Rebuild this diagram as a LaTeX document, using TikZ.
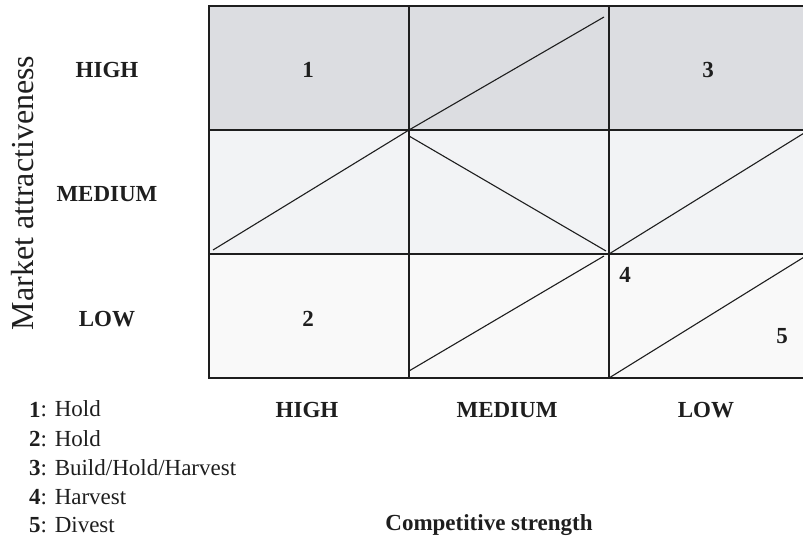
\documentclass[tikz,border=0pt]{standalone}
\usepackage{fontspec}
\setmainfont{Liberation Serif}
\usetikzlibrary{positioning}
\definecolor{rowHigh}{HTML}{DCDDE1}
\definecolor{rowMed}{HTML}{F2F3F5}
\definecolor{rowLow}{HTML}{F9F9F9}
\definecolor{gridInk}{HTML}{1E1E1E}

\begin{document}
\begin{tikzpicture}[x=1pt,y=1pt]
			\tikzstyle{cell} = [draw=gridInk, line width=1.8pt, %text width=4em,
				minimum width=200pt, minimum height=124pt, inner sep=0pt, outer sep=0pt]
			\tikzstyle{cellH} = [cell, fill=rowHigh]
			\tikzstyle{cellM} = [cell, fill=rowMed]
			\tikzstyle{cellL} = [cell, fill=rowLow]
			\tikzstyle{diag} = [draw=gridInk, line width=1.1pt]
			\tikzstyle{lab} = [font=\fontsize{23}{27}\selectfont\bfseries, anchor=base, inner sep=0pt, text=gridInk]
			\tikzstyle{key} = [font=\fontsize{23}{27}\selectfont, anchor=base west, inner sep=0pt, text=gridInk]

			\useasboundingbox (0,0) rectangle (803,536);

			\tikzset{node distance = 124pt}
			\node(HH)[cellH] at (309,468){};
			\node(MH)[cellM, below of = HH]{};
			\node(LH)[cellL, below of = MH]{};
			\tikzset{node distance = 200pt}
			\node(HM)[cellH, right of = HH]{};
			\node(HL)[cellH, right of = HM]{};
			\node(MM)[cellM, right of = MH]{};
			\node(ML)[cellM, right of = MM]{};
			\node(LM)[cellL, right of = LH]{};
			\node(LL)[cellL, right of = LM]{};

			\draw[diag] (HM.south west) -- ([xshift=-5pt,yshift=-11pt]HM.north east);
			\draw[diag] ([xshift=4pt,yshift=4pt]MH.south west) -- (MH.north east);
			\draw[diag] ([yshift=-6pt]MM.north west) -- ([xshift=-3pt,yshift=3pt]MM.south east);
			\draw[diag] (ML.south west) -- (ML.north east);
			\draw[diag] ([yshift=7pt]LM.south west) -- ([xshift=-5pt,yshift=-2pt]LM.north east);
			\draw[diag] (LL.south west) -- (LL.north east);

			\node(n1)[lab] at (308,458){1};
			\node(n3)[lab] at (708,458){3};
			\node(n2)[lab] at (308,209){2};
			\node(n4)[lab] at (625,253){4};
			\node(n5)[lab] at (782,193){5};

			\node(rowHigh)[lab] at (107,458){HIGH};
			\node(rowMedium)[lab] at (107,334){MEDIUM};
			\node(rowLow)[lab] at (107,209){LOW};
			\node(colHigh)[lab] at (307,119){HIGH};
			\node(colMedium)[lab] at (507,119){MEDIUM};
			\node(colLow)[lab] at (706,119){LOW};

			\node(yaxis)[rotate=90, anchor=base, inner sep=0pt, text=gridInk,
				font=\fontsize{32}{36}\selectfont] at (33,343){Market attractiveness};
			\node(xaxis)[lab] at (489,6){Competitive strength};

			\node(key1)[key] at (29,119){\textbf{1}: Hold};
			\node(key2)[key] at (29,90){\textbf{2}: Hold};
			\node(key3)[key] at (29,61){\textbf{3}: Build/Hold/Harvest};
			\node(key4)[key] at (29,32){\textbf{4}: Harvest};
			\node(key5)[key] at (29,4){\textbf{5}: Divest};

		\end{tikzpicture}
\end{document}
